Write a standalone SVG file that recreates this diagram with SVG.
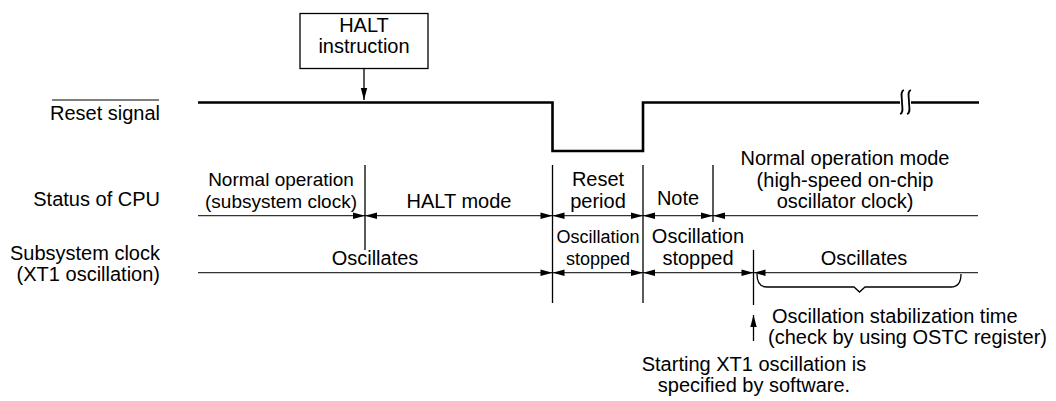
<svg xmlns="http://www.w3.org/2000/svg" width="1056" height="401" viewBox="0 0 1056 401">
<defs>
<style>
text{font-family:"Liberation Sans",Arial,sans-serif;font-size:20px;fill:#000}
.m{text-anchor:middle}
.r{text-anchor:end}
.s19{font-size:19px}
.s18{font-size:18px}
.thin{stroke:#333;stroke-width:1.3;fill:none}
.vl{stroke:#000;stroke-width:1.3;fill:none}
.sig{stroke:#000;stroke-width:2.6;fill:none}
.ah{fill:#000;stroke:none}
</style>
<marker id="arr" viewBox="0 0 12 8" refX="12" refY="4" markerWidth="12" markerHeight="8" markerUnits="userSpaceOnUse" orient="auto">
<path d="M0,0.8 L12,4 L0,7.2 Z" fill="#000"/>
</marker>
</defs>
<rect width="1056" height="401" fill="#fff"/>

<g id="labels">
<text class="r" x="160" y="120">Reset signal</text>
<line x1="52" y1="100" x2="159" y2="100" stroke="#000" stroke-width="1"/>
<text class="r" x="160" y="206">Status of CPU</text>
<text class="r" x="160" y="260">Subsystem clock</text>
<text class="r" x="160" y="281">(XT1 oscillation)</text>
</g>

<g id="halt-instruction">
<rect x="300" y="13.5" width="128" height="55" fill="#fff" stroke="#000" stroke-width="1.3"/>
<text class="m" x="364" y="32">HALT</text>
<text class="m" x="364" y="53">instruction</text>
</g>

<g id="reset-signal">
<path class="sig" d="M198,102.5 H552.5 V151 H643 V102.5 H900"/>
<path class="sig" d="M911,102.5 H979"/>
<path d="M904,90 C900,91 902,97 902,102 C902,107 904,113 900,114" stroke="#000" stroke-width="1.8" fill="none"/>
<path d="M911,90 C907,91 909,97 909,102 C909,107 911,113 907,114" stroke="#000" stroke-width="1.8" fill="none"/>
</g>

<g id="cpu-status">
<text class="m s19" x="281" y="186">Normal operation</text>
<text class="m s19" x="281" y="208">(subsystem clock)</text>
<text class="m" x="459" y="208">HALT mode</text>
<text class="m" x="598" y="186">Reset</text>
<text class="m" x="598" y="208">period</text>
<text class="m" x="678" y="205">Note</text>
<text class="m" x="845" y="165">Normal operation mode</text>
<text class="m" x="845" y="187">(high-speed on-chip</text>
<text class="m" x="845" y="208">oscillator clock)</text>
</g>

<g id="subsystem-clock">
<text class="m" x="375" y="265">Oscillates</text>
<text class="m s18" x="598" y="243">Oscillation</text>
<text class="m s18" x="598" y="265">stopped</text>
<text class="m" x="698" y="243">Oscillation</text>
<text class="m" x="698" y="265">stopped</text>
<text class="m" x="864" y="265">Oscillates</text>
</g>

<g id="stabilization-note">
<path d="M757,274 Q757,287 767,287 H854 L859.5,292 L865,287 H951 Q961,287 961,274" stroke="#000" stroke-width="1.3" fill="none"/>
<text x="772" y="323">Oscillation stabilization time</text>
<text x="768" y="344">(check by using OSTC register)</text>
</g>

<g id="software-note">
<text class="m" x="754" y="371">Starting XT1 oscillation is</text>
<text class="m" x="754" y="392">specified by software.</text>
</g>

<g id="connectors">
<line class="vl" x1="364" y1="68.5" x2="364" y2="100" marker-end="url(#arr)"/>
<line class="thin" x1="198" y1="215.7" x2="978" y2="215.7"/>
<line class="thin" x1="198" y1="272.7" x2="978" y2="272.7"/>
<line class="vl" x1="365" y1="165" x2="365" y2="250"/>
<line class="vl" x1="552.5" y1="165" x2="552.5" y2="303"/>
<line class="vl" x1="643" y1="165" x2="643" y2="303"/>
<line class="vl" x1="713" y1="165" x2="713" y2="222"/>
<line class="vl" x1="753.5" y1="250" x2="753.5" y2="305"/>
<line class="vl" x1="753.5" y1="341" x2="753.5" y2="315" marker-end="url(#arr)"/>
<!-- CPU row arrowheads -->
<path class="ah" d="M365,215.7 l-12,-3.2 v6.4 Z M365,215.7 l12,-3.2 v6.4 Z"/>
<path class="ah" d="M552.5,215.7 l-12,-3.2 v6.4 Z M552.5,215.7 l12,-3.2 v6.4 Z"/>
<path class="ah" d="M643,215.7 l-12,-3.2 v6.4 Z M643,215.7 l12,-3.2 v6.4 Z"/>
<path class="ah" d="M713,215.7 l-12,-3.2 v6.4 Z M713,215.7 l12,-3.2 v6.4 Z"/>
<!-- subsystem row arrowheads -->
<path class="ah" d="M552.5,272.7 l-12,-3.2 v6.4 Z M552.5,272.7 l12,-3.2 v6.4 Z"/>
<path class="ah" d="M643,272.7 l-12,-3.2 v6.4 Z M643,272.7 l12,-3.2 v6.4 Z"/>
<path class="ah" d="M753.5,272.7 l-12,-3.2 v6.4 Z M753.5,272.7 l12,-3.2 v6.4 Z"/>
</g>
</svg>
